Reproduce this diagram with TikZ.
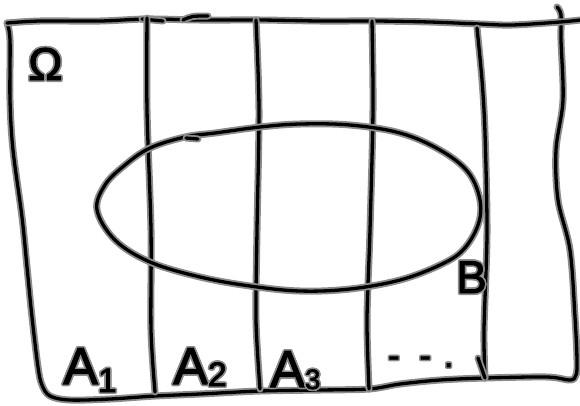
\documentclass[tikz,border=0pt]{standalone}
\usepackage{fontspec}
\setmainfont{Liberation Sans}
\newfontfamily\hand{Liberation Sans}[FakeBold=2]
\usepackage[copies]{contour}
\contourlength{1.6pt}
\contournumber{16}
\tikzset{
  pen/.style={draw=black, line width=3.3pt, line cap=round, line join=round,
    preaction={draw=black!45, line width=7pt, line cap=round, line join=round}},
  lbl/.style={inner sep=0pt, anchor=base west, font=\hand},
}
\newcommand{\hl}[1]{\contour{black!45}{#1}}
\begin{document}
\begin{tikzpicture}[x=1pt,y=-1pt]
\useasboundingbox (0,0) rectangle (580,405);
% outer frame: left, bottom, right
\draw[pen] plot[smooth, tension=0.55] coordinates {(7,23) (10,40) (10,100) (13,150) (22,217) (27,267) (32,317) (38,367) (42,385) (50,396) (70,400) (110,399) (155,396) (200,394) (260,391) (320,390) (369,389) (400,384) (440,380) (485,378) (547,377) (570,380) (576,375) (577,360) (575,317) (570,250) (558,200) (556,150) (563,100) (561,40) (561,15) (557,7)};
% top line
\draw[pen] plot[smooth, tension=0.55] coordinates {(7,23) (40,21) (100,21) (147,19) (200,20) (260,20) (320,21) (375,21) (430,22) (480,24) (512,25) (560,22) (580,20)};
\draw[pen] (142,19) -- (163,21);
\draw[pen] (183,20) .. controls (192,16) .. (208,16);
% vertical lines
\draw[pen] plot[smooth] coordinates {(147,18) (147,110) (151,230) (151,330) (155,392)};
\draw[pen] plot[smooth] coordinates {(256,20) (259,110) (257,230) (256,320) (260,389)};
\draw[pen] plot[smooth] coordinates {(372,21) (373,110) (370,230) (367,320) (369,389)};
\draw[pen] plot[smooth] coordinates {(477,28) (482,80) (485,133) (487,233) (484,330) (485,378)};
\draw[pen] (478,358) -- (485,378);
% ellipse B
\draw[pen] plot[smooth cycle, tension=0.6] coordinates {(97,210) (105,185) (125,165) (150,148) (185,137) (215,133) (260,127) (300,124) (350,125) (400,133) (440,150) (468,172) (480,200) (478,225) (463,250) (440,265) (400,280) (350,289) (300,291) (250,286) (200,277) (150,262) (115,240)};
\draw[pen] (186,138) -- (198,139);
% labels
\node[lbl] (omega) at (28,80) {\fontsize{46}{46}\selectfont\hl{Ω}};
\node[lbl] (a1) at (63,384) {\fontsize{52}{52}\selectfont\hl{A}\raisebox{-8pt}{\fontsize{34}{34}\selectfont\hl{1}}};
\node[lbl] (a2) at (173,384) {\fontsize{52}{52}\selectfont\hl{A}\raisebox{-2pt}{\fontsize{34}{34}\selectfont\hl{2}}};
\node[lbl] (a3) at (270,387) {\fontsize{52}{52}\selectfont\hl{A}\raisebox{-2pt}{\fontsize{28}{28}\selectfont\hl{3}}};
\node[lbl] (dots) at (388,367) {\fontsize{34}{34}\selectfont\hl{-}\hspace{20pt}\hl{-}\hspace{13pt}\hl{.}};
\node[lbl] (b) at (456,293) {\fontsize{46}{46}\selectfont\hl{B}};
\end{tikzpicture}
\end{document}
